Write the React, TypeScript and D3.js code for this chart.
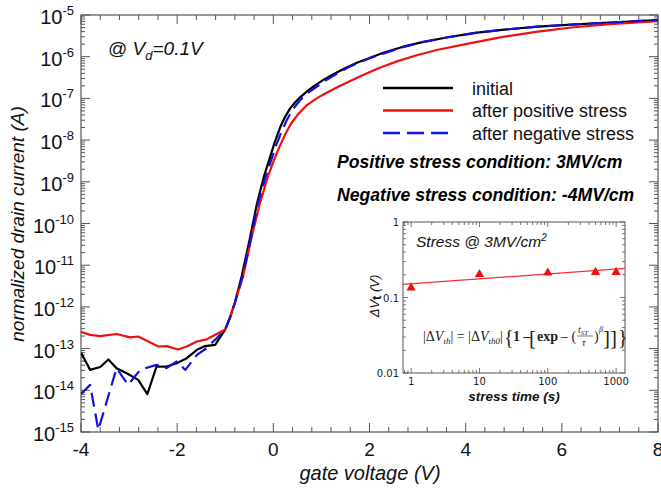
import React from 'react';
import * as d3 from 'd3';

// gate voltage (V) and log10 of normalized drain current
const vInitial = [-4, -3.81, -3.6, -3.43, -3.26, -3.05, -2.81, -2.62, -2.43, -2.22, -2.01, -1.8, -1.59, -1.42, -1.21, -1.0, -0.9, -0.8, -0.66, -0.48, -0.34, -0.19, -0.08, 0.03, 0.14, 0.25, 0.35, 0.45, 0.55, 0.7, 0.85, 1.05, 1.25, 1.5, 1.75, 2.0, 2.3, 2.7, 3.1, 3.6, 4.2, 4.8, 5.5, 6.2, 7.0, 8];
const logInitial = [-13.1, -13.51, -13.44, -13.26, -13.47, -13.59, -13.75, -14.09, -13.43, -13.43, -13.35, -13.23, -13.03, -12.94, -12.91, -12.54, -12.25, -11.9, -11.27, -10.32, -9.52, -8.85, -8.45, -8.05, -7.7, -7.43, -7.24, -7.1, -6.98, -6.83, -6.7, -6.55, -6.42, -6.27, -6.14, -6.03, -5.9, -5.76, -5.65, -5.54, -5.43, -5.35, -5.28, -5.23, -5.18, -5.12];

const vPositive = [-4, -3.81, -3.6, -3.26, -2.98, -2.81, -2.6, -2.39, -2.22, -1.98, -1.8, -1.59, -1.39, -1.18, -1.0, -0.9, -0.8, -0.63, -0.45, -0.28, -0.12, 0.0, 0.12, 0.24, 0.36, 0.5, 0.7, 0.9, 1.1, 1.35, 1.6, 1.9, 2.2, 2.6, 3.0, 3.4, 4.0, 4.8, 5.5, 6.2, 7.0, 8];
const logPositive = [-12.6, -12.67, -12.7, -12.65, -12.73, -12.71, -12.83, -12.95, -12.94, -13.02, -12.95, -12.83, -12.78, -12.65, -12.54, -12.25, -11.9, -11.27, -10.32, -9.52, -8.9, -8.52, -8.18, -7.88, -7.62, -7.4, -7.16, -7.0, -6.87, -6.72, -6.58, -6.42, -6.27, -6.1, -5.96, -5.84, -5.7, -5.52, -5.4, -5.3, -5.22, -5.15];

const vNegative = [-4, -3.81, -3.64, -3.26, -3.02, -2.77, -2.43, -2.22, -2.01, -1.83, -1.59, -1.39, -1.18, -1.0, -0.9, -0.8, -0.64, -0.46, -0.32, -0.16, -0.05, 0.06, 0.17, 0.28, 0.4, 0.55, 0.7, 0.9, 1.1, 1.3, 1.55, 1.8, 2.05, 2.3, 2.7, 3.1, 3.6, 4.2, 4.8, 5.5, 6.2, 7.0, 8];
const logNegative = [-14.09, -13.87, -14.95, -13.47, -13.87, -13.51, -13.39, -13.47, -13.31, -13.51, -13.15, -12.99, -12.75, -12.54, -12.25, -11.9, -11.27, -10.32, -9.52, -8.88, -8.5, -8.12, -7.8, -7.52, -7.27, -7.05, -6.88, -6.72, -6.56, -6.42, -6.26, -6.13, -6.02, -5.92, -5.77, -5.65, -5.54, -5.43, -5.35, -5.28, -5.23, -5.18, -5.12];

// inset: threshold voltage shift vs stress time
const stressTime = [1, 10, 100, 500, 1000];
const deltaVt = [0.139, 0.209, 0.219, 0.223, 0.223];
const fitTime = [0.76, 1350];
const fitDeltaVt = [0.149, 0.243];

const xTicks = [-4, -2, 0, 2, 4, 6, 8];
const yExponents = [-15, -14, -13, -12, -11, -10, -9, -8, -7, -6, -5];
const insetXTicks = [1, 10, 100, 1000];
const insetYTicks = [0.01, 0.1, 1];
const insetYLabels = ['0.01', '0.1', '1'];

const series = [
  { name: 'initial', v: vInitial, log: logInitial, color: '#000000', dash: undefined },
  { name: 'after positive stress', v: vPositive, log: logPositive, color: '#f01010', dash: undefined },
  { name: 'after negative stress', v: vNegative, log: logNegative, color: '#1010e0', dash: '14,7' },
];

const FONT = "Arial, 'Liberation Sans', sans-serif";
const AX = '#555';

function App() {
  const W = 661, H = 488;
  const x = d3.scaleLinear().domain([-4, 8]).range([81, 658]);
  const y = d3.scaleLog().domain([1e-15, 1e-5]).range([432, 15]);
  const [x0, x1] = x.range();
  const [y0, y1] = y.range();

  const line = d3.line<[number, number]>()
    .x(d => x(d[0]))
    .y(d => y(Math.pow(10, d[1])));

  const xMinor = d3.range(-4, 8.001, 0.4);
  const yMinor: number[] = [];
  yExponents.slice(0, -1).forEach(e => {
    for (let k = 2; k <= 9; k++) yMinor.push(k * Math.pow(10, e));
  });

  // inset scales
  const ix = d3.scaleLog().domain([0.76, 1350]).range([403, 625]);
  const iy = d3.scaleLog().domain([0.01, 1]).range([373, 222]);
  const [ix0, ix1] = ix.range();
  const [iy0, iy1] = iy.range();
  const ixMinor: number[] = [];
  for (let e = -1; e <= 3; e++) for (let k = 1; k <= 9; k++) {
    const t = k * Math.pow(10, e);
    if (t > 0.76 && t < 1350) ixMinor.push(t);
  }
  const iyMinor: number[] = [];
  for (let e = -2; e <= -1; e++) for (let k = 2; k <= 9; k++) iyMinor.push(k * Math.pow(10, e));

  const fitLine = d3.line<number>()
    .x(d => ix(d))
    .y((d, i) => iy(fitDeltaVt[i]));

  const tri = d3.symbol().type(d3.symbolTriangle).size(38)();

  return (
    <svg width={W} height={H} style={{ position: 'absolute', left: 0, top: 0, background: '#fff' }} fontFamily={FONT}>
      <defs>
        <clipPath id="plotclip">
          <rect x={x0} y={y1} width={x1 - x0} height={y0 - y1} />
        </clipPath>
      </defs>
      <rect width={W} height={H} fill="#fff" />

      {/* ticks */}
      <g stroke={AX} strokeWidth={1}>
        {xMinor.map((v, i) => {
          const major = xTicks.some(t => Math.abs(t - v) < 1e-6);
          const len = major ? 9 : 5;
          return (
            <g key={'xm' + i}>
              <line x1={x(v)} x2={x(v)} y1={y0} y2={y0 - len} />
              <line x1={x(v)} x2={x(v)} y1={y1} y2={y1 + len} />
            </g>
          );
        })}
        {yExponents.map(e => (
          <g key={'ye' + e}>
            <line x1={x0} x2={x0 + 9} y1={y(Math.pow(10, e))} y2={y(Math.pow(10, e))} />
            <line x1={x1} x2={x1 - 9} y1={y(Math.pow(10, e))} y2={y(Math.pow(10, e))} />
          </g>
        ))}
        {yMinor.map((v, i) => (
          <g key={'ym' + i}>
            <line x1={x0} x2={x0 + 4} y1={y(v)} y2={y(v)} />
            <line x1={x1} x2={x1 - 4} y1={y(v)} y2={y(v)} />
          </g>
        ))}
      </g>
      <rect x={x0} y={y1} width={x1 - x0} height={y0 - y1} fill="none" stroke={AX} strokeWidth={1.2} />

      {/* tick labels */}
      {xTicks.map(t => (
        <text key={'xt' + t} x={x(t)} y={456} fontSize={19} textAnchor="middle" fill="#111">{t}</text>
      ))}
      {yExponents.map(e => (
        <text key={'yt' + e} x={74} y={y(Math.pow(10, e)) + 9} fontSize={20} textAnchor="end" fill="#111">
          10<tspan dy={-9} fontSize={13}>{e}</tspan>
        </text>
      ))}

      {/* axis titles */}
      <text x={370} y={480} fontSize={20} fontStyle="italic" textAnchor="middle" fill="#111">gate voltage (V)</text>
      <text transform="translate(24,224) rotate(-90)" fontSize={19} fontStyle="italic" textAnchor="middle" fill="#111">normalized drain current (A)</text>

      {/* curves */}
      <g clipPath="url(#plotclip)">
        {series.map(s => (
          <path key={s.name}
            d={line(s.v.map((v, i) => [v, s.log[i]] as [number, number])) || ''}
            fill="none" stroke={s.color} strokeWidth={2.2} strokeDasharray={s.dash} strokeLinejoin="round" />
        ))}
      </g>

      {/* annotation */}
      <text x={108} y={55} fontSize={19} fill="#111">
        @ <tspan fontStyle="italic">V</tspan>
        <tspan fontStyle="italic" fontSize={13} dy={5}>d</tspan>
        <tspan fontStyle="italic" dy={-5}>=0.1V</tspan>
      </text>

      {/* legend */}
      {series.map((s, i) => (
        <g key={'lg' + s.name} transform={`translate(0,${88 + i * 22.5})`}>
          <line x1={383} x2={453} y1={0} y2={0} stroke={s.color} strokeWidth={2.6} strokeDasharray={s.dash ? '17,7' : undefined} />
          <text x={472} y={6.5} fontSize={18} fill="#111">{s.name}</text>
        </g>
      ))}
      <text x={337} y={168} fontSize={17.6} fontWeight="bold" fontStyle="italic" fill="#000">Positive stress condition: 3MV/cm</text>
      <text x={337} y={201} fontSize={17.6} fontWeight="bold" fontStyle="italic" fill="#000">Negative stress condition: -4MV/cm</text>

      {/* inset */}
      <rect x={ix0} y={iy1} width={ix1 - ix0} height={iy0 - iy1} fill="#fff" />
      <g stroke={AX} strokeWidth={0.8}>
        {ixMinor.map((t, i) => {
          const major = insetXTicks.includes(t);
          const len = major ? 5 : 3;
          return (
            <g key={'ixm' + i}>
              <line x1={ix(t)} x2={ix(t)} y1={iy0} y2={iy0 - len} />
              <line x1={ix(t)} x2={ix(t)} y1={iy1} y2={iy1 + len} />
            </g>
          );
        })}
        {iyMinor.concat(insetYTicks).map((v, i) => {
          const major = insetYTicks.includes(v);
          const len = major ? 5 : 3;
          return (
            <g key={'iym' + i}>
              <line x1={ix0} x2={ix0 + len} y1={iy(v)} y2={iy(v)} />
              <line x1={ix1} x2={ix1 - len} y1={iy(v)} y2={iy(v)} />
            </g>
          );
        })}
      </g>
      <rect x={ix0} y={iy1} width={ix1 - ix0} height={iy0 - iy1} fill="none" stroke={AX} strokeWidth={1} />
      {insetXTicks.map(t => (
        <text key={'ixt' + t} x={ix(t)} y={iy0 + 12} fontSize={10} textAnchor="middle" fill="#222" fontFamily="'DejaVu Sans', sans-serif">{t}</text>
      ))}
      {insetYTicks.map((v, i) => (
        <text key={'iyt' + v} x={ix0 - 4} y={iy(v) + 4} fontSize={10} textAnchor="end" fill="#222" fontFamily="'DejaVu Sans', sans-serif">{insetYLabels[i]}</text>
      ))}
      <text x={514} y={401} fontSize={13.5} fontWeight="bold" fontStyle="italic" textAnchor="middle" fill="#111">stress time (s)</text>
      <text transform="translate(379,296) rotate(-90)" fontSize={13} fontStyle="italic" textAnchor="middle" fill="#111">
        ΔV<tspan fontWeight="bold" fontStyle="normal" dy={2}>t</tspan><tspan dy={-2}> (V)</tspan>
      </text>
      <text x={416} y={247} fontSize={15.5} fontStyle="italic" fill="#111">
        Stress @ 3MV/cm<tspan dy={-6} fontSize={10}>2</tspan>
      </text>
      <path d={fitLine(fitTime) || ''} fill="none" stroke="#f03030" strokeWidth={1.2} />
      {stressTime.map((t, i) => (
        <path key={'pt' + t} d={tri || ''} transform={`translate(${ix(t)},${iy(deltaVt[i]) + 1})`} fill="#f01010" />
      ))}

      {/* formula */}
      <g fontFamily="'Liberation Serif', 'DejaVu Serif', serif" fill="#222" fontSize={14}>
        <text x={423} y={341}>
          |Δ<tspan fontStyle="italic">V</tspan><tspan fontStyle="italic" fontSize={9} dy={3}>th</tspan>
          <tspan dy={-3}>| = |Δ</tspan><tspan fontStyle="italic">V</tspan><tspan fontStyle="italic" fontSize={9} dy={3}>th0</tspan>
          <tspan dy={-3}>|</tspan>
        </text>
        <text x={504} y={344} fontSize={20}>{'{'}</text>
        <text x={513} y={341} fontWeight="bold">1 –</text>
        <text x={529} y={345} fontSize={21}>[</text>
        <text x={537} y={341} fontWeight="bold">exp</text>
        <text x={561} y={341}>– (</text>
        <text x={578} y={333} fontStyle="italic" fontSize={10}>t<tspan fontSize={7} dy={2}>ST</tspan></text>
        <line x1={577} x2={593} y1={336} y2={336} stroke="#222" strokeWidth={0.6} />
        <text x={582} y={346} fontStyle="italic" fontSize={10}>τ</text>
        <text x={594} y={341}>)</text>
        <text x={599} y={332} fontStyle="italic" fontSize={8}>β</text>
        <text x={603} y={345} fontSize={21}>]]</text>
        <text x={618} y={344} fontSize={20}>{'}'}</text>
      </g>
    </svg>
  );
}

export default App;
